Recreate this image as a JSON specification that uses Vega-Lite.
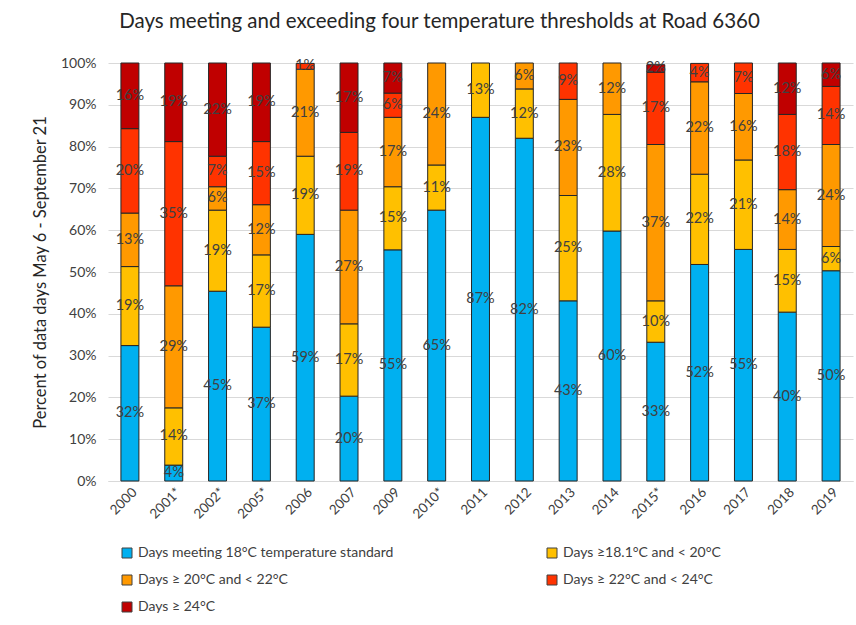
{
  "$schema": "https://vega.github.io/schema/vega-lite/v6.json",
  "width": 745,
  "height": 418,
  "autosize": {"type": "none"},
  "padding": {"left": 108, "top": 63, "right": 3, "bottom": 144},
  "background": "white",
  "config": {
    "font": "Lato",
    "view": {"stroke": null},
    "axis": {"labelFont": "Lato", "titleFont": "Lato", "labelColor": "#404040", "titleColor": "#262626"}
  },
  "title": {
    "text": "Days meeting and exceeding four temperature thresholds at Road 6360",
    "fontSize": 20.5,
    "fontWeight": "normal",
    "color": "#262626",
    "anchor": "middle",
    "frame": "group",
    "dx": -41,
    "offset": 24
  },
  "datasets": {
    "cats": [
      {"key": "c1", "name": "Days meeting 18°C temperature standard"},
      {"key": "c2", "name": "Days ≥18.1°C and < 20°C"},
      {"key": "c3", "name": "Days ≥ 20°C and < 22°C"},
      {"key": "c4", "name": "Days ≥ 22°C and < 24°C"},
      {"key": "c5", "name": "Days ≥ 24°C"}
    ]
  },
  "data": {
    "values": [
      {"year": "2000", "c1": 0.324, "c2": 0.189, "c3": 0.128, "c4": 0.202, "c5": 0.157},
      {"year": "2001*", "c1": 0.038, "c2": 0.137, "c3": 0.292, "c4": 0.345, "c5": 0.188},
      {"year": "2002*", "c1": 0.454, "c2": 0.194, "c3": 0.056, "c4": 0.073, "c5": 0.223},
      {"year": "2005*", "c1": 0.368, "c2": 0.173, "c3": 0.120, "c4": 0.151, "c5": 0.188},
      {"year": "2006", "c1": 0.590, "c2": 0.187, "c3": 0.208, "c4": 0.014, "c5": 0},
      {"year": "2007", "c1": 0.203, "c2": 0.173, "c3": 0.272, "c4": 0.186, "c5": 0.166},
      {"year": "2009", "c1": 0.553, "c2": 0.151, "c3": 0.166, "c4": 0.058, "c5": 0.072},
      {"year": "2010*", "c1": 0.648, "c2": 0.108, "c3": 0.244, "c4": 0, "c5": 0},
      {"year": "2011", "c1": 0.870, "c2": 0.130, "c3": 0, "c4": 0, "c5": 0},
      {"year": "2012", "c1": 0.820, "c2": 0.118, "c3": 0.062, "c4": 0, "c5": 0},
      {"year": "2013", "c1": 0.431, "c2": 0.252, "c3": 0.230, "c4": 0.087, "c5": 0},
      {"year": "2014", "c1": 0.598, "c2": 0.279, "c3": 0.123, "c4": 0, "c5": 0},
      {"year": "2015*", "c1": 0.332, "c2": 0.099, "c3": 0.374, "c4": 0.173, "c5": 0.018},
      {"year": "2016", "c1": 0.518, "c2": 0.216, "c3": 0.221, "c4": 0.044, "c5": 0},
      {"year": "2017", "c1": 0.554, "c2": 0.214, "c3": 0.159, "c4": 0.073, "c5": 0},
      {"year": "2018", "c1": 0.404, "c2": 0.150, "c3": 0.143, "c4": 0.180, "c5": 0.123},
      {"year": "2019", "c1": 0.503, "c2": 0.058, "c3": 0.244, "c4": 0.139, "c5": 0.056}
    ]
  },
  "transform": [
    {"fold": ["c1", "c2", "c3", "c4", "c5"], "as": ["key", "v"]},
    {"filter": "datum.v > 0"},
    {"lookup": "key", "from": {"data": {"name": "cats"}, "key": "key", "fields": ["name"]}},
    {"stack": "v", "groupby": ["year"], "sort": [{"field": "key", "order": "ascending"}], "as": ["v0", "v1"]},
    {"calculate": "(datum.v0 + datum.v1) / 2", "as": "mid"}
  ],
  "encoding": {
    "x": {
      "field": "year",
      "type": "nominal",
      "sort": null,
      "title": null,
      "scale": {"paddingInner": 0.59, "paddingOuter": 0.295},
      "axis": {
        "labelAngle": -45,
        "labelFontSize": 13.5,
        "labelPadding": 4,
        "ticks": false,
        "domainColor": "#D9D9D9",
        "domainWidth": 1
      }
    }
  },
  "layer": [
    {
      "mark": {"type": "bar", "stroke": "#262626", "strokeWidth": 1},
      "encoding": {
        "y": {
          "field": "v0",
          "type": "quantitative",
          "scale": {"domain": [0, 1], "nice": false},
          "title": "Percent of data days May 6 - September 21",
          "axis": {
            "format": ".0%",
            "values": [0, 0.1, 0.2, 0.3, 0.4, 0.5, 0.6, 0.7, 0.8, 0.9, 1],
            "labelFontSize": 14,
            "titleFontSize": 16.5,
            "titleFontWeight": "normal",
            "titlePadding": 12,
            "labelPadding": 12,
            "ticks": false,
            "domain": false,
            "gridColor": "#D9D9D9",
            "gridWidth": 1
          }
        },
        "y2": {"field": "v1"},
        "color": {
          "field": "name",
          "type": "nominal",
          "scale": {
            "domain": [
              "Days meeting 18°C temperature standard",
              "Days ≥18.1°C and < 20°C",
              "Days ≥ 20°C and < 22°C",
              "Days ≥ 22°C and < 24°C",
              "Days ≥ 24°C"
            ],
            "range": ["#00B0F0", "#FFC000", "#FF9900", "#FF3300", "#C00000"]
          },
          "legend": {
            "title": null,
            "orient": "none",
            "direction": "horizontal",
            "legendX": 12,
            "legendY": 483,
            "columns": 2,
            "columnPadding": 151,
            "rowPadding": 13,
            "symbolType": "square",
            "symbolSize": 100,
            "symbolStrokeColor": "#404040",
            "symbolStrokeWidth": 1,
            "labelFontSize": 14,
            "labelColor": "#404040",
            "labelFont": "Lato",
            "labelLimit": 400
          }
        }
      }
    },
    {
      "mark": {"type": "text", "fontSize": 14.5, "color": "#404040", "font": "Lato"},
      "encoding": {
        "y": {"field": "mid", "type": "quantitative"},
        "text": {"field": "v", "type": "quantitative", "format": ".0%"}
      }
    }
  ]
}
